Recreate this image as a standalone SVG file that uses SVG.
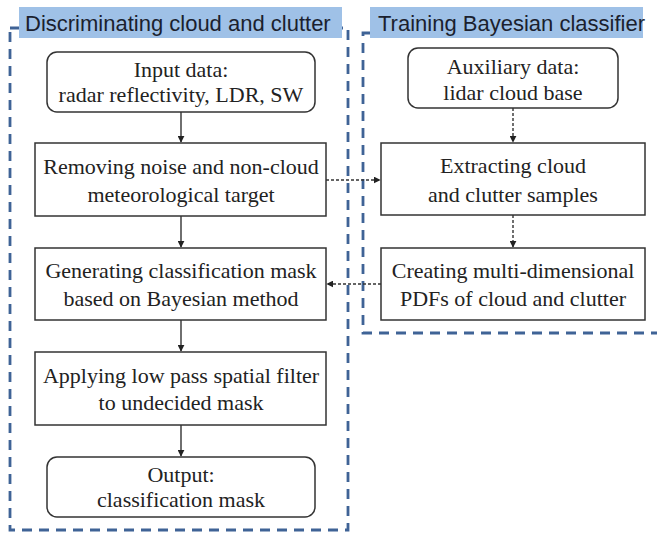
<svg xmlns="http://www.w3.org/2000/svg" width="657" height="535" viewBox="0 0 657 535">
<defs>
<style>
.frame{fill:none;stroke:#3F6396;stroke-width:2.8;stroke-dasharray:10 7}
.lbl{fill:#9fc1e7;stroke:none}
.lt{font-family:"Liberation Sans",Arial,sans-serif;font-size:22px;fill:#1b1f2e}
.box{fill:#fff;stroke:#333;stroke-width:1.5}
.t{font-family:"Liberation Serif","Times New Roman",serif;font-size:22px;fill:#222;text-anchor:middle}
.c{fill:none;stroke:#333;stroke-width:1.4}
.d{fill:none;stroke:#333;stroke-width:1.4;stroke-dasharray:3 2}
</style>
<marker id="ah" viewBox="0 0 10 10" refX="9" refY="5" markerWidth="7" markerHeight="7" orient="auto" markerUnits="userSpaceOnUse">
<path d="M0,0 L10,5 L0,10 z" fill="#222"/>
</marker>
</defs>
<rect width="657" height="535" fill="#fff"/>

<g id="frame-left">
<rect class="frame" x="10" y="28" width="338" height="502"/>
<rect class="lbl" x="19" y="7" width="323" height="31"/>
<text class="lt" x="25" y="31">Discriminating cloud and clutter</text>
</g>
<g id="frame-right">
<path class="frame" d="M370 33 H363 V333 H662"/>
<rect class="lbl" x="370" y="7" width="273" height="31"/>
<text class="lt" x="378" y="31">Training Bayesian classifier</text>
</g>

<g id="connectors">
<path class="c" d="M181 112 V142" marker-end="url(#ah)"/>
<path class="c" d="M181 216 V247" marker-end="url(#ah)"/>
<path class="c" d="M181 320 V351" marker-end="url(#ah)"/>
<path class="c" d="M181 425 V456" marker-end="url(#ah)"/>
<path class="d" d="M513 108 V142" marker-end="url(#ah)"/>
<path class="d" d="M513 215 V247" marker-end="url(#ah)"/>
<path class="d" d="M326 180 H380" marker-end="url(#ah)"/>
<path class="d" d="M381 284 H327" marker-end="url(#ah)"/>
</g>

<g id="input">
<rect class="box" x="47" y="52" width="268" height="60" rx="10"/>
<text class="t" x="181" y="77">Input data:</text>
<text class="t" x="181" y="102">radar reflectivity, LDR, SW</text>
</g>
<g id="removing">
<rect class="box" x="35" y="143" width="291" height="73"/>
<text class="t" x="181" y="174">Removing noise and non-cloud</text>
<text class="t" x="181" y="202">meteorological target</text>
</g>
<g id="generating">
<rect class="box" x="35" y="248" width="291" height="72"/>
<text class="t" x="181" y="278">Generating classification mask</text>
<text class="t" x="181" y="306">based on Bayesian method</text>
</g>
<g id="applying">
<rect class="box" x="35" y="352" width="291" height="73"/>
<text class="t" x="181" y="383">Applying low pass spatial filter</text>
<text class="t" x="181" y="410">to undecided mask</text>
</g>
<g id="output">
<rect class="box" x="47" y="457" width="268" height="60" rx="10"/>
<text class="t" x="181" y="482">Output:</text>
<text class="t" x="181" y="507">classification mask</text>
</g>
<g id="auxiliary">
<rect class="box" x="408" y="48" width="210" height="60" rx="10"/>
<text class="t" x="513" y="74">Auxiliary data:</text>
<text class="t" x="513" y="100">lidar cloud base</text>
</g>
<g id="extracting">
<rect class="box" x="381" y="143" width="264" height="72"/>
<text class="t" x="513" y="173">Extracting cloud</text>
<text class="t" x="513" y="202">and clutter samples</text>
</g>
<g id="creating">
<rect class="box" x="381" y="248" width="264" height="72"/>
<text class="t" x="513" y="278">Creating multi-dimensional</text>
<text class="t" x="513" y="306">PDFs of cloud and clutter</text>
</g>
</svg>
